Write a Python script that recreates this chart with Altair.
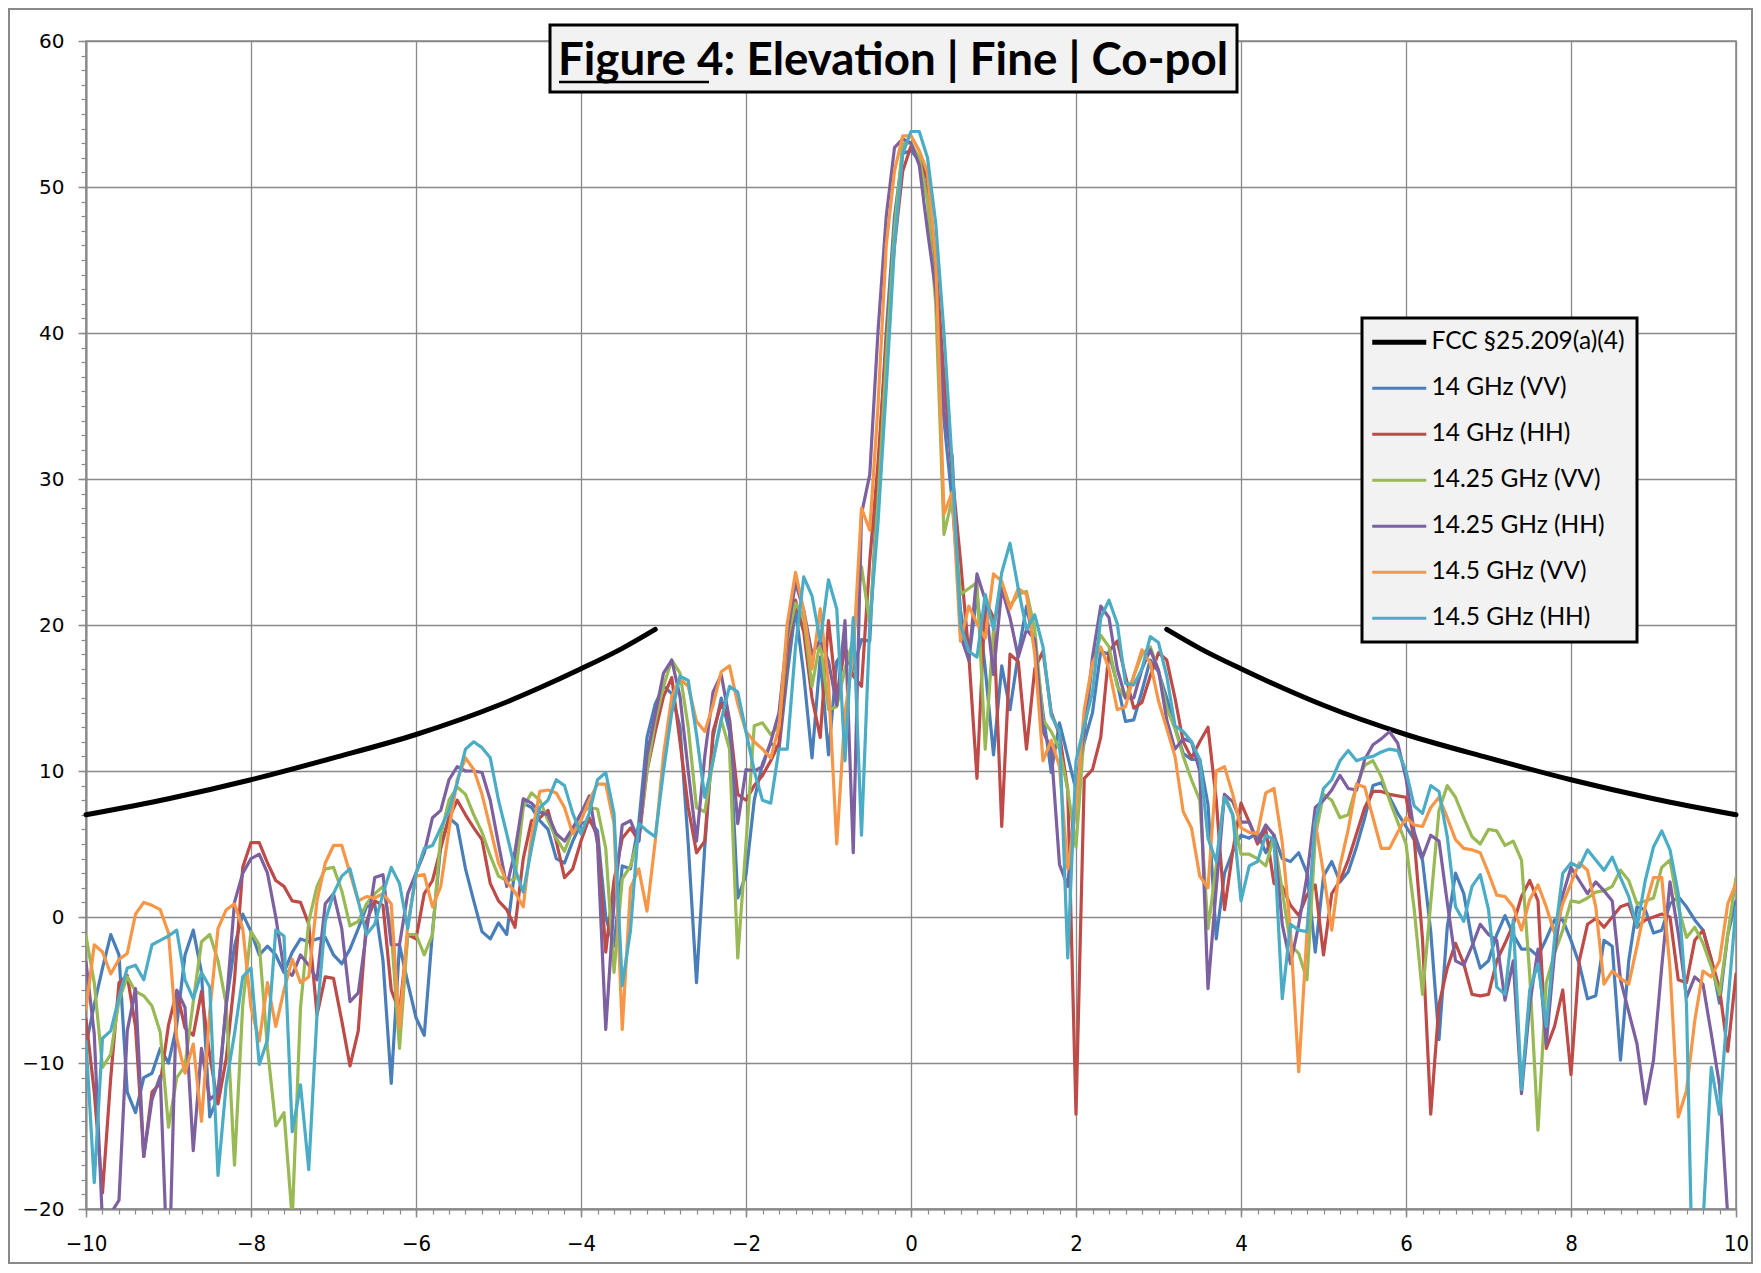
import altair as alt
import pandas as pd

# ---------------- data ----------------
ANGLES = [round(-10 + 0.1 * i, 1) for i in range(201)]  # 0.1 deg grid

SERIES = ["14 GHz (VV)", "14 GHz (HH)", "14.25 GHz (VV)",
          "14.25 GHz (HH)", "14.5 GHz (VV)", "14.5 GHz (HH)"]
FCC_NAME = "FCC §25.209(a)(4)"

v14_vv = [
    -8.8, -6.0, -3.5, -1.2, -2.6, -12.0, -13.4, -11.0, -10.7, -9.0,
    -10.0, -7.4, -2.6, -0.9, -3.8, -13.7, -12.3, -6.0, -2.0, 0.2,
    -1.0, -2.6, -2.0, -2.6, -3.8, -2.4, -1.5, -1.7, -1.5, -1.4,
    -2.6, -3.2, -2.2, -0.8, 0.7, 0.9, -3.0, -11.4, -1.9, -4.5,
    -6.9, -8.1, -1.0, 4.9, 6.8, 6.3, 3.3, 1.1, -1.0, -1.5,
    -0.4, -1.2, 3.3, 7.8, 7.5, 6.6, 6.0, 4.0, 3.7, 5.2,
    6.4, 6.6, 5.9, 0.0, -2.0, 3.5, 3.3, 6.4, 12.3, 14.6,
    15.8, 15.3, 13.0, 5.0, -4.5, 4.8, 12.3, 15.0, 12.7, 1.3,
    2.9, 8.0, 10.5, 11.9, 11.5, 16.6, 21.1, 16.6, 10.9, 17.8,
    11.1, 17.5, 18.3, 17.0, 19.0, 18.9, 30.3, 40.1, 48.0, 52.3,
    52.5, 51.8, 49.5, 43.0, 34.0, 28.4, 21.0, 17.6, 22.1, 17.0,
    11.1, 17.2, 14.2, 18.0, 21.3, 18.5, 14.0, 9.9, 13.3, 11.0,
    8.7, 12.0, 14.0, 18.2, 18.0, 16.0, 13.4, 13.5, 15.5, 17.6,
    16.8, 15.0, 13.0, 11.2, 10.8, 10.8, 7.7, -1.5, 3.0, 4.5,
    5.6, 5.4, 5.8, 4.4, 5.6, 4.0, 3.8, 4.4, 3.0, -2.4,
    2.8, 3.8, 2.4, 3.1, 4.8, 6.8, 9.0, 9.2, 8.2, 7.1,
    6.2, 5.3, 3.9, -1.0, -8.4, -0.7, 3.0, 1.6, -1.6, -3.5,
    -3.0, -1.2, 0.1, -1.2, -2.2, -2.2, -2.7, -1.5, -0.2, -0.2,
    -1.6, -3.2, -5.6, -5.4, -1.6, -2.0, -9.8, -3.0, 0.7, 0.5,
    -1.1, -0.9, 0.9, 1.4, 0.7, -0.2, -0.9, -2.9, -5.9, -1.2,
    1.1,
]
v14_hh = [
    -7.0, -12.0, -18.9, -11.0, -4.5, -4.0, -7.5, -16.4, -12.0, -11.4,
    -7.4, -5.1, -7.6, -8.1, -5.1, -9.5, -12.8, -9.7, -4.3, 3.4,
    5.1, 5.1, 3.7, 2.5, 2.1, 1.1, 1.0, -0.5, -6.7, -4.1,
    -4.2, -7.1, -10.2, -7.8, -0.3, 1.1, 0.8, -5.0, -6.5, -1.2,
    -1.5, 1.6, 2.5, 4.7, 6.8, 8.0, 7.0, 6.1, 5.3, 2.3,
    1.1, 0.5, -0.7, 4.0, 6.6, 6.8, 7.3, 5.2, 2.7, 3.3,
    5.2, 6.8, 5.5, -2.4, 2.5, 5.4, 6.1, 5.2, 10.0, 12.7,
    15.1, 16.4, 12.0, 7.5, 4.4, 5.2, 12.7, 14.6, 13.5, 8.4,
    8.0, 9.0, 9.7, 10.7, 11.9, 18.0, 21.7, 19.5, 15.0, 12.3,
    20.3, 15.0, 18.5, 16.5, 15.8, 24.4, 31.1, 39.3, 46.0, 51.1,
    52.8, 52.0, 50.5, 45.0, 37.0, 30.3, 24.4, 18.0, 9.5, 21.7,
    20.5, 6.2, 18.0, 17.5, 11.5, 17.0, 18.2, 14.0, 12.5, 8.7,
    -13.5, 9.5, 10.1, 12.3, 18.2, 18.9, 16.5, 14.3, 14.7, 16.5,
    18.1, 17.6, 15.0, 12.0, 10.9, 12.0, 13.0, 8.0, 0.5, 4.5,
    7.8, 6.5, 5.0, 6.0, 2.3, 2.1, 0.8, 0.1, 1.5, 2.2,
    -2.6, 1.6, 2.5, 3.9, 5.7, 7.5, 8.6, 8.6, 8.4, 8.3,
    8.2, 5.3, -1.5, -13.5, -6.0, -3.5, -1.8, -3.2, -5.3, -5.4,
    -5.3, -3.0, -1.8, -0.5, 1.4, 2.5, 1.1, -9.0, -7.5, -5.0,
    -10.8, -3.0, -0.5, -0.1, -0.7, 0.0, 0.7, 0.9, -0.7, -0.2,
    0.0, 0.2, 0.0, -4.3, -4.5, -1.6, -0.9, -2.9, -4.9, -9.2,
    -3.9,
]
v1425_vv = [
    -1.3, -4.5, -10.3, -9.4, -5.7, -4.1, -5.1, -5.4, -6.1, -7.9,
    -14.4, -11.0, -10.2, -5.8, -1.7, -1.2, -3.0, -6.0, -17.0, -6.0,
    -1.0, -1.9, -9.0, -14.3, -13.4, -20.7, -6.2, -0.3, 2.1, 3.3,
    3.4, 1.8, -0.6, -0.3, 0.9, 1.6, 2.1, -1.0, -9.0, -1.2,
    -1.2, -2.6, -1.2, 5.6, 8.0, 8.9, 8.4, 7.0, 5.8, 4.2,
    2.8, 2.5, 2.6, 7.5, 8.5, 8.0, 6.6, 5.4, 4.5, 6.0,
    7.1, 7.5, 7.4, 4.7, -3.8, 2.6, 3.5, 5.5, 10.0, 13.4,
    15.8, 17.6, 16.7, 13.0, 7.5, 7.2, 10.7, 13.5, 11.5, -2.8,
    5.0, 13.1, 13.3, 12.5, 13.1, 19.0, 21.5, 20.5, 15.8, 18.9,
    14.2, 14.4, 17.0, 19.0, 24.0, 20.1, 28.4, 38.2, 47.0, 53.0,
    53.0, 52.0, 49.0, 42.0, 26.2, 28.7, 22.1, 22.5, 22.9, 11.5,
    19.7, 22.9, 21.3, 22.1, 22.3, 19.7, 13.5, 12.7, 11.5, 8.7,
    4.8, 12.7, 17.4, 19.3, 18.5, 15.8, 15.0, 16.5, 18.0, 18.5,
    16.9, 14.3, 12.9, 11.0, 9.4, 8.0, -0.8, 3.5, 8.4, 7.0,
    4.3, 4.3, 4.0, 3.5, 5.5, 1.8, -1.9, -2.5, -4.3, 5.5,
    8.4, 8.0, 6.8, 7.0, 9.0, 10.4, 10.7, 9.6, 8.0, 6.5,
    5.0, 0.5, -5.3, 1.0, 7.3, 9.0, 8.2, 6.8, 5.5, 5.0,
    6.0, 5.9, 4.9, 5.2, 3.9, -4.0, -14.6, -4.5, -2.5, -0.9,
    1.1, 1.0, 1.3, 1.7, 1.8, 2.1, 3.2, 2.5, 0.9, 1.1,
    1.3, 3.4, 3.9, 0.7, -1.4, -0.7, -1.8, -3.4, -5.3, -1.2,
    2.7,
]
v1425_hh = [
    -3.1, -8.0, -21.0, -20.3, -19.4, -7.8, -4.9, -16.4, -12.5, -10.9,
    -26.0, -5.0, -6.2, -16.0, -9.0, -12.5, -12.0, -6.0, 1.0, 3.0,
    4.0, 4.3, 3.0, 0.0, -3.6, -4.0, -2.6, -3.3, -4.3, 0.9,
    1.6, -0.8, -5.8, -5.2, -1.0, 2.7, 2.9, -1.9, -1.9, 1.6,
    3.0, 4.4, 6.8, 7.3, 9.4, 10.3, 10.0, 10.0, 9.9, 8.0,
    5.0, 2.1, 4.5, 8.1, 7.8, 7.2, 7.0, 5.7, 5.2, 6.1,
    7.1, 8.3, 5.0, -7.7, 1.0, 6.3, 6.6, 5.2, 11.1, 13.9,
    16.7, 17.6, 15.1, 10.0, 5.2, 11.0, 15.4, 16.6, 13.5, 6.4,
    10.1, 10.0, 10.3, 12.0, 14.0, 19.3, 22.9, 21.0, 18.0, 19.0,
    17.5, 14.5, 20.3, 4.4, 27.6, 30.3, 40.1, 48.0, 52.7, 53.3,
    53.0, 51.5, 47.0, 42.9, 34.6, 31.5, 19.3, 17.6, 23.5, 21.7,
    16.6, 22.5, 20.5, 17.8, 19.7, 19.0, 12.7, 11.5, 3.6, 2.1,
    9.0, 12.7, 17.8, 21.3, 20.5, 17.0, 15.0, 15.0, 17.0, 18.3,
    16.9, 13.5, 11.5, 12.2, 12.0, 10.0, -4.9, 2.0, 8.4, 7.9,
    6.5, 6.5, 5.2, 6.3, 5.6, -0.5, -3.2, -0.5, 2.8, 7.5,
    8.0, 8.7, 9.7, 8.8, 8.7, 10.8, 11.8, 12.2, 12.7, 11.9,
    9.5, 5.8, 4.1, 5.6, 5.2, 1.0, -3.0, -3.3, -2.0, -0.5,
    -1.2, -1.6, -5.7, -3.0, -12.1, -6.0, -2.2, -8.7, -2.5, 1.5,
    3.4, 2.5, 1.6, 2.4, 1.8, 1.1, -4.3, -6.5, -8.7, -12.8,
    -9.8, -3.4, 2.4, -1.1, -5.5, -4.1, -4.6, -8.0, -11.5, -20.5,
    -26.0,
]
v145_vv = [
    -6.3, -1.9, -2.4, -3.9, -2.9, -2.5, 0.2, 1.0, 0.8, 0.5,
    -1.1, -8.3, -10.7, -8.7, -14.0, -6.5, -0.8, 0.5, 0.9, -0.8,
    -6.2, -8.5, -4.5, -7.5, -5.0, -2.9, -4.5, -4.1, 1.1, 3.7,
    4.9, 4.9, 3.0, 1.1, 1.4, 1.3, 1.6, 0.9, -7.6, -0.5,
    2.8, 2.9, 0.7, 2.1, 6.0, 9.4, 10.9, 10.1, 8.4, 6.1,
    3.7, 2.4, 1.7, 0.7, 5.5, 8.6, 8.7, 8.5, 7.5, 5.7,
    6.6, 8.0, 9.1, 9.1, 6.4, -7.7, 2.0, 3.3, 0.4, 5.2,
    11.1, 15.1, 16.3, 15.8, 13.4, 12.7, 14.5, 16.8, 17.2, 14.6,
    12.7, 12.0, 11.5, 10.9, 13.0, 20.1, 23.6, 21.0, 17.0, 21.1,
    16.0, 5.0, 14.0, 18.0, 28.0, 26.5, 35.0, 46.0, 51.1, 53.5,
    53.5, 52.5, 51.0, 45.0, 27.6, 29.1, 18.9, 21.3, 20.1, 19.1,
    23.5, 23.0, 21.1, 22.5, 22.1, 18.0, 10.7, 12.1, 10.3, 3.3,
    7.5, 14.2, 17.4, 18.5, 17.0, 14.2, 14.4, 16.5, 18.3, 17.4,
    14.8, 12.9, 11.0, 7.2, 6.1, 2.8, 2.0, 10.0, 10.3, 8.4,
    6.1, 5.8, 5.7, 8.5, 8.8, 5.1, -1.0, -10.6, -1.0, 6.5,
    3.0, -0.9, 3.5, 6.0, 9.1, 8.9, 6.8, 4.7, 4.7, 5.8,
    6.8, 6.3, 6.2, 7.5, 8.2, 6.8, 5.3, 4.7, 4.6, 4.4,
    3.0, 1.5, 1.4, 0.7, -0.9, 1.2, 2.2, 0.7, -1.1, 0.9,
    2.3, 3.7, 3.2, 0.7, -4.6, -3.7, -4.2, -4.6, -2.0, 0.7,
    2.7, 2.7, -3.5, -13.7, -11.9, -7.1, -3.7, -4.1, -3.0, 0.9,
    2.3,
]
v145_hh = [
    -8.5, -18.2, -8.3, -7.8, -5.5, -3.5, -3.3, -4.3, -1.9, -1.6,
    -1.3, -0.9, -4.3, -5.6, -3.8, -4.8, -17.7, -11.4, -8.0, -4.1,
    -3.5, -10.1, -8.4, -0.9, -1.3, -14.7, -11.5, -17.3, -6.7, -0.3,
    1.6, 2.8, 3.3, 1.1, -1.2, -0.5, 1.6, 3.4, 2.3, -0.8,
    3.0, 4.7, 4.9, 6.1, 7.3, 9.2, 11.5, 12.0, 11.6, 10.9,
    8.0, 5.7, 3.3, 1.7, 4.7, 7.5, 8.0, 9.4, 9.0, 7.1,
    5.7, 7.1, 9.4, 9.9, 7.1, -4.7, -0.9, 6.4, 5.9, 5.5,
    10.0, 14.0, 16.5, 16.2, 12.5, 8.2, 10.7, 13.5, 15.8, 15.4,
    12.7, 10.0, 8.0, 7.8, 11.5, 11.5, 18.5, 23.3, 22.0, 18.9,
    23.1, 21.1, 10.7, 20.5, 5.6, 20.0, 27.0, 36.2, 46.0, 52.3,
    53.8, 53.8, 52.0, 47.5, 40.0, 31.0, 20.0, 18.2, 17.8, 22.1,
    19.7, 23.6, 25.6, 22.5, 19.7, 20.7, 18.5, 13.8, 12.7, -2.8,
    10.7, 13.1, 15.4, 20.5, 21.7, 20.1, 16.0, 15.9, 17.0, 19.2,
    18.8, 16.5, 13.1, 12.7, 12.0, 10.8, 5.4, 3.8, 8.2, 7.0,
    1.1, 3.5, 3.8, 5.6, 5.3, -5.6, -0.5, -0.9, -1.0, 6.5,
    8.8, 9.4, 10.7, 11.4, 10.7, 10.9, 11.0, 11.3, 11.5, 11.4,
    10.0, 7.6, 7.1, 9.0, 8.6, 5.5, 0.7, -0.3, 2.1, 2.9,
    0.5, -4.8, -5.3, -0.2, -11.8, -5.0, -3.2, -7.5, -1.5, 3.0,
    3.7, 3.4, 4.6, 3.9, 3.2, 4.1, 2.7, 1.4, -0.7, 2.5,
    4.8, 5.9, 4.6, 1.6, -6.0, -32.0, -21.0, -10.3, -13.5, -6.0,
    0.7,
]

# FCC mask
fcc_left_x = [-10, -9, -8, -7, -6, -5, -4.5, -4, -3.5, -3.1]
fcc_left_y = [7.0, 8.1, 9.4, 10.9, 12.5, 14.5, 15.7, 17.0, 18.4, 19.7]
fcc_right_x = [3.1, 3.5, 4, 4.5, 5, 6, 7, 8, 9, 10]
fcc_right_y = [19.7, 18.4, 17.0, 15.7, 14.5, 12.5, 10.9, 9.4, 8.1, 7.0]

COLORS = ["#000000", "#4A7EBB", "#BE4B48", "#98B954", "#7D60A0", "#F79646", "#4BACC6"]
TITLE = "Figure 4: Elevation | Fine | Co-pol"
GRID = "#898989"

rows = []
for name, vals in zip(SERIES, [v14_vv, v14_hh, v1425_vv, v1425_hh, v145_vv, v145_hh]):
    assert len(vals) == 201, (name, len(vals))
    for a, v in zip(ANGLES, vals):
        rows.append({"angle": a, "gain": v, "series": name})
df = pd.DataFrame(rows)

fcc_rows = []
for a, v in zip(fcc_left_x, fcc_left_y):
    fcc_rows.append({"angle": a, "gain": v, "series": FCC_NAME, "side": "L"})
for a, v in zip(fcc_right_x, fcc_right_y):
    fcc_rows.append({"angle": a, "gain": v, "series": FCC_NAME, "side": "R"})
fcc_df = pd.DataFrame(fcc_rows)

one = pd.DataFrame({"t": [TITLE], "u": ["Figure 4"]})

xscale = alt.Scale(domain=[-10, 10], nice=False, zero=False)
yscale = alt.Scale(domain=[-20, 60], nice=False, zero=False)
cscale = alt.Scale(domain=[FCC_NAME] + SERIES, range=COLORS)

legend = alt.Legend(
    title=None, orient="none", legendX=1276, legendY=277, direction="vertical",
    fillColor="#f2f2f2", strokeColor="black", padding=12,
    labelFont="Lato", labelFontSize=24.5, labelColor="black", labelLimit=500,
    symbolType="stroke", symbolSize=2916, symbolOffset=13,
    symbolStrokeWidth={"expr": "datum.value == 'FCC §25.209(a)(4)' ? 5 : 3.2"},
    rowPadding=21, labelOffset=20,
)

x_main = alt.X("angle:Q", scale=xscale, axis=alt.Axis(
    values=list(range(-10, 11, 2)), title=None, orient="bottom", grid=True,
    gridColor=GRID, gridWidth=1.3, domainColor=GRID, domainWidth=2,
    tickColor=GRID, tickSize=8, tickWidth=1.5,
    labelFont="DejaVu Sans Condensed", labelFontSize=22, labelColor="black",
    labelPadding=16, labelFlush=False))
y_main = alt.Y("gain:Q", scale=yscale, axis=alt.Axis(
    values=list(range(-20, 61, 10)), title=None, orient="left", grid=True,
    gridColor=GRID, gridWidth=1.3, domainColor=GRID, domainWidth=2,
    tickColor=GRID, tickSize=8, tickWidth=1.5,
    labelFont="DejaVu Sans", labelFontSize=20, labelColor="black",
    labelPadding=14, labelFlush=False))

border = alt.Chart(one).mark_rect(fill="transparent", stroke=GRID, strokeWidth=2).encode(
    x=alt.value(-77), x2=alt.value(1666), y=alt.value(-32), y2=alt.value(1222))

fcc = alt.Chart(fcc_df).mark_line(strokeWidth=5, interpolate="monotone", strokeCap="round").encode(
    x=alt.X("angle:Q", scale=xscale, axis=None),
    y=alt.Y("gain:Q", scale=yscale, axis=None),
    color=alt.Color("series:N", scale=cscale, legend=legend),
    detail="side:N")

lines = alt.Chart(df).mark_line(strokeWidth=3.2, clip=True, strokeJoin="round", strokeCap="round").encode(
    x=x_main, y=y_main,
    color=alt.Color("series:N", scale=cscale, legend=legend))

minor = alt.Chart(fcc_df).mark_point(opacity=0).encode(
    x=alt.X("angle:Q", scale=xscale, axis=alt.Axis(
        values=[round(-10 + 0.2 * i, 1) for i in range(101)], labels=False, grid=False,
        domain=False, tickColor=GRID, tickSize=5, tickWidth=1.2, title=None, orient="bottom")),
    y=alt.Y("gain:Q", scale=yscale, axis=alt.Axis(
        values=list(range(-20, 61)), labels=False, grid=False,
        domain=False, tickColor=GRID, tickSize=5, tickWidth=1.2, title=None, orient="left")))

title_box = alt.Chart(one).mark_rect(fill="#f2f2f2", stroke="black", strokeWidth=3).encode(
    x=alt.value(464), x2=alt.value(1151), y=alt.value(-16), y2=alt.value(51))
title_text = alt.Chart(one).mark_text(font="Lato", fontWeight="bold", fontSize=45.7,
                                      align="center", baseline="alphabetic", color="black").encode(
    x=alt.value(807), y=alt.value(34), text="t:N")
underline = alt.Chart(one).mark_rule(color="black", strokeWidth=2.7).encode(
    x=alt.value(473), x2=alt.value(623), y=alt.value(41))

chart = alt.layer(border, fcc, lines, minor, title_box, title_text, underline).resolve_axis(
    x="independent", y="independent"
).properties(
    width=1650, height=1168,
    autosize=alt.AutoSizeParams(type="none"),
    padding={"left": 78, "top": 33, "right": 17, "bottom": 56},
).configure_view(
    stroke=GRID, strokeWidth=1.5
).configure_legend(
    strokeWidth=3
)

chart.save("out.html", embed_options={"renderer": "svg", "actions": False})
